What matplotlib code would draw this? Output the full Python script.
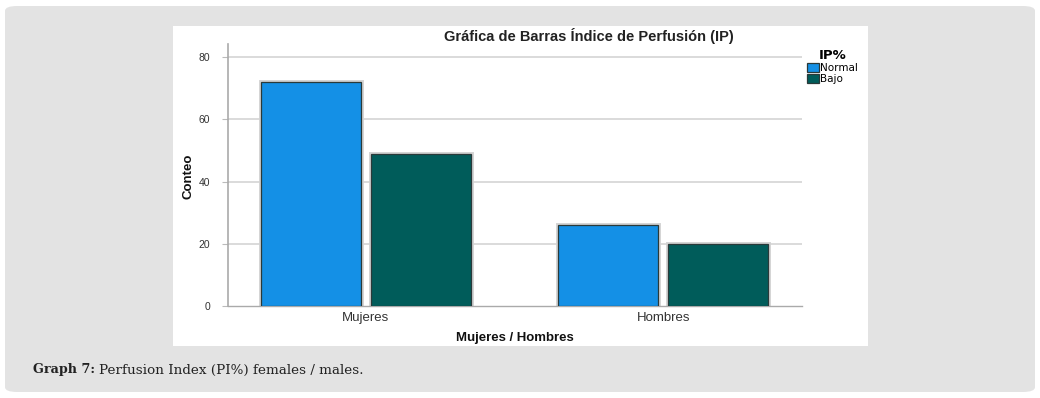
import matplotlib
matplotlib.use("Agg")
import matplotlib.pyplot as plt
from matplotlib.patches import FancyBboxPatch, Rectangle
import numpy as np

categories = ["Mujeres", "Hombres"]
series_names = ["Normal", "Bajo"]
normal_vals = [72, 26]
bajo_vals = [49, 20]
yticks = [0, 20, 40, 60, 80]
colors = ["#1490e6", "#005c5a"]

W, H = 1040, 398
fig = plt.figure(figsize=(W / 100, H / 100), dpi=100)
fig.patch.set_facecolor("white")

bg = FancyBboxPatch((5 / W, 6 / H), 1030 / W, 386 / H,
                    boxstyle="round,pad=0,rounding_size=0.012",
                    transform=fig.transFigure, facecolor="#e3e3e3",
                    edgecolor="none", zorder=0)
fig.patches.append(bg)
panel = Rectangle((173 / W, 1 - 346 / H), 695 / W, 320 / H,
                  transform=fig.transFigure, facecolor="white",
                  edgecolor="none", zorder=1)
fig.patches.append(panel)

ax = fig.add_axes([228 / W, 1 - 306 / H, 574 / W, 262 / H])
ax.set_facecolor("none")
ax.set_zorder(2)

x = np.arange(len(categories))
width = 0.336
offset = 0.185
for i, (vals, name) in enumerate(zip([normal_vals, bajo_vals], series_names)):
    xs = x + (i - 0.5) * 2 * offset
    ax.bar(xs, vals, width, facecolor="white", edgecolor="#d2d2d2",
           linewidth=3.5, zorder=2)
    ax.bar(xs, vals, width, facecolor=colors[i], edgecolor="#2a3a3a",
           linewidth=0.9, zorder=3, label=name)

ax.set_xlim(-0.464, 1.466)
ax.set_ylim(0, 84.2)
ax.set_yticks(yticks)
ax.set_yticklabels([str(t) for t in yticks], fontsize=7.5, color="#333333",
                   family="Liberation Sans")
ax.set_xticks(x)
ax.set_xticklabels(categories, fontsize=9.5, color="#333333",
                   family="Liberation Sans")
ax.tick_params(axis="x", length=0, pad=4)
ax.tick_params(axis="y", length=4, color="#bbbbbb", pad=9)
for t in yticks[1:]:
    ax.axhline(t, color="#d4d4d4", linewidth=1.2, zorder=1)
for s in ["top", "right"]:
    ax.spines[s].set_visible(False)
ax.spines["left"].set_color("#aaaaaa")
ax.spines["bottom"].set_color("#aaaaaa")
ax.spines["left"].set_linewidth(1.2)
ax.spines["bottom"].set_linewidth(1.0)

fig.text(188 / W, 1 - 176 / H, "Conteo", rotation=90, fontsize=9.5,
         fontweight="bold", family="Liberation Sans",
         ha="center", va="center", color="#111111")
fig.text(515 / W, 1 - 338 / H, "Mujeres / Hombres", fontsize=9.5,
         fontweight="bold", family="Liberation Sans", ha="center",
         va="center", color="#111111")
fig.text(589 / W, 1 - 36 / H, "Gráfica de Barras Índice de Perfusión (IP)",
         fontsize=10.5, fontweight="bold", family="Liberation Sans",
         ha="center", va="center", color="#222222")

leg = ax.legend(loc="upper left", bbox_to_anchor=(800 / W, 1 - 42 / H),
                bbox_transform=fig.transFigure, title="IP%",
                fontsize=7.5, frameon=False, handlelength=1.1,
                handleheight=1.0, handletextpad=0.1, labelspacing=0.05,
                borderpad=0.2, alignment="center")
leg.get_title().set_fontweight("bold")
leg.get_title().set_fontsize(9.5)

t1 = fig.text(33 / W, 1 - 370 / H, "Graph 7:", fontsize=9.2, fontweight="bold",
              family="DejaVu Serif", ha="left", va="center", color="#222222")
fig.canvas.draw()
bb = t1.get_window_extent()
fig.text((bb.x1 + 4) / W, 1 - 370 / H, "Perfusion Index (PI%) females / males.",
         fontsize=9.7, family="DejaVu Serif", ha="left", va="center",
         color="#222222")

fig.savefig("out.png", dpi=100)
